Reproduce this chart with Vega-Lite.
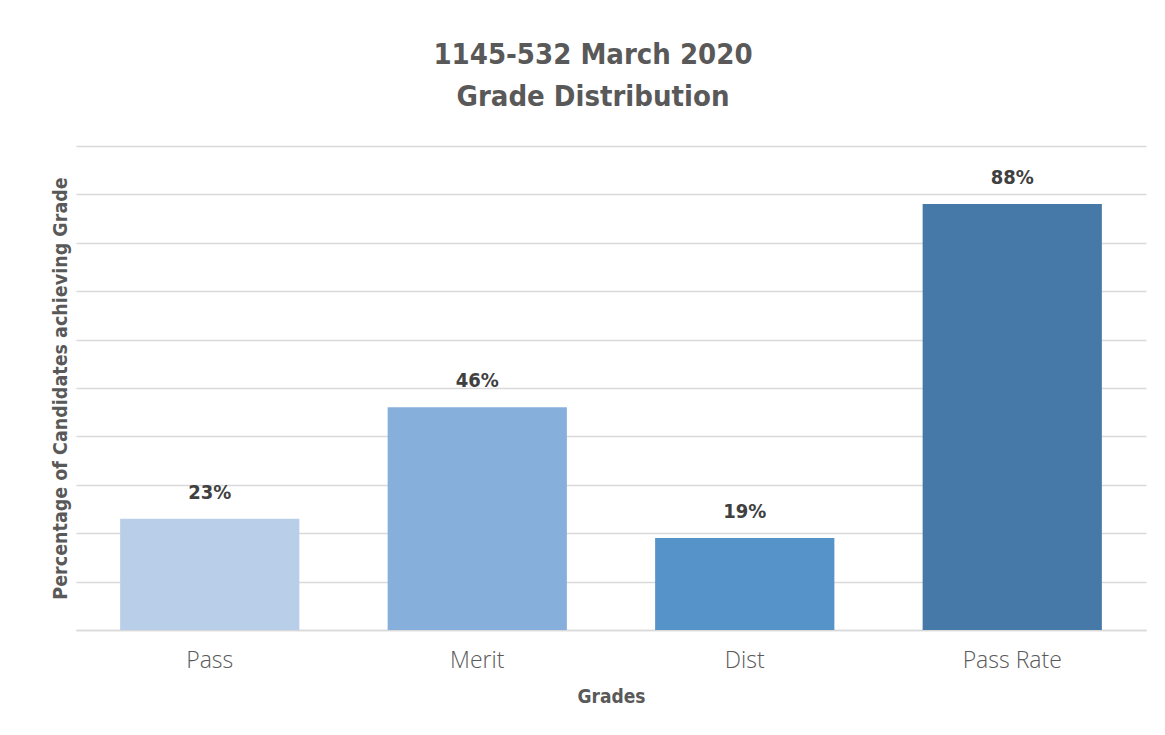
{
  "$schema": "https://vega.github.io/schema/vega-lite/v6.json",
  "autosize": "none",
  "width": 1070,
  "height": 484,
  "padding": {"left": 76, "top": 146, "right": 19, "bottom": 105},
  "background": "white",
  "data": {"values": [
    {"grade": "Pass", "pct": 0.23},
    {"grade": "Merit", "pct": 0.46},
    {"grade": "Dist", "pct": 0.19},
    {"grade": "Pass Rate", "pct": 0.88}
  ]},
  "title": {
    "text": ["1145-532 March 2020", "Grade Distribution"],
    "font": "DejaVu Sans Condensed",
    "fontWeight": "bold",
    "fontSize": 29,
    "lineHeight": 42,
    "color": "#595959",
    "anchor": "middle",
    "dx": -18,
    "offset": 34
  },
  "encoding": {
    "x": {
      "field": "grade", "type": "nominal", "sort": null,
      "scale": {"paddingInner": 0.33, "paddingOuter": 0.165},
      "axis": {
        "title": "Grades",
        "titleFont": "DejaVu Sans Condensed",
        "titleFontWeight": "bold",
        "titleFontSize": 19,
        "titleColor": "#595959",
        "titlePadding": 15,
        "labelAngle": 0,
        "labelFont": "Open Sans",
        "labelFontWeight": 300,
        "labelFontSize": 23,
        "labelColor": "#595959",
        "labelPadding": 19,
        "ticks": false,
        "domainColor": "#d9d9d9",
        "domainWidth": 1.5
      }
    },
    "y": {
      "field": "pct", "type": "quantitative",
      "scale": {"domain": [0, 1], "nice": false},
      "axis": {
        "title": "Percentage of Candidates achieving Grade",
        "titleFont": "DejaVu Sans Condensed",
        "titleFontWeight": "bold",
        "titleFontSize": 19.5,
        "titleColor": "#595959",
        "titlePadding": 6,
        "labels": false,
        "ticks": false,
        "domain": false,
        "grid": true,
        "gridColor": "#d9d9d9",
        "gridWidth": 1.5,
        "values": [0, 0.1, 0.2, 0.3, 0.4, 0.5, 0.6, 0.7, 0.8, 0.9, 1.0]
      }
    }
  },
  "layer": [
    {
      "mark": {"type": "bar"},
      "encoding": {
        "color": {
          "field": "grade", "type": "nominal", "sort": null,
          "scale": {"domain": ["Pass", "Merit", "Dist", "Pass Rate"], "range": ["#b9cfe9", "#86afdc", "#5593c8", "#4679a8"]},
          "legend": null
        }
      }
    },
    {
      "mark": {"type": "text", "dy": -16, "baseline": "bottom", "font": "DejaVu Sans Condensed", "fontWeight": "bold", "fontSize": 20, "color": "#404040"},
      "encoding": {
        "text": {"field": "pct", "type": "quantitative", "format": ".0%"}
      }
    }
  ],
  "config": {"view": {"stroke": null}}
}
